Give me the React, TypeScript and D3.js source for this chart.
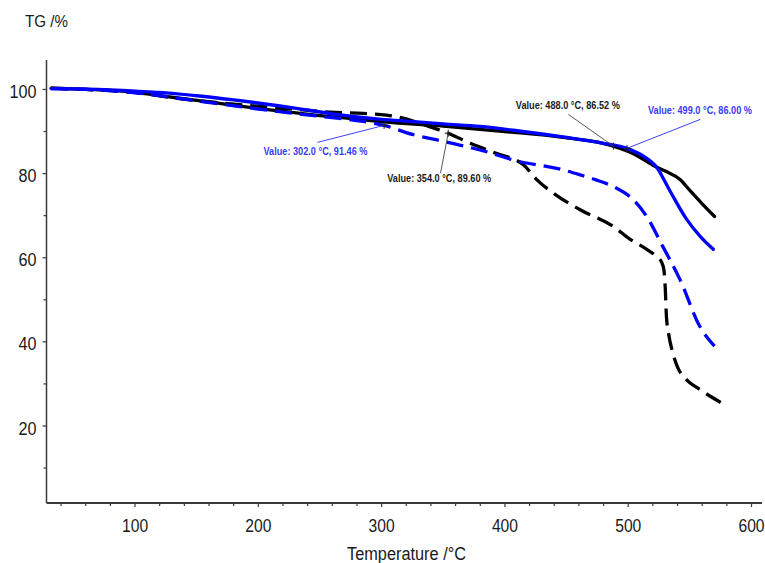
import React from 'react';
import * as d3 from 'd3';

// ---- Data (temperature °C, TG %) ----
const blackSolidT = [32, 60, 80, 100, 123, 150, 204, 250, 285, 302, 350, 400, 447, 488, 505, 520, 530, 542, 550, 560, 570];
const blackSolidV = [100.3, 100.0, 99.8, 99.3, 98.4, 97.4, 95.3, 93.8, 92.8, 92.3, 91.3, 90.0, 88.6, 86.52, 84.6, 82.0, 80.6, 78.6, 76.0, 72.8, 69.8];

const blueSolidT = [32, 60, 80, 100, 120, 150, 180, 231, 260, 300, 323, 350, 380, 407, 447, 480, 499, 512, 523, 534, 547, 558, 569];
const blueSolidV = [100.2, 100.1, 99.9, 99.6, 99.3, 98.5, 97.5, 95.5, 94.2, 92.9, 92.4, 91.8, 91.2, 90.3, 88.7, 87.2, 86.0, 84.2, 81.5, 75.8, 69.3, 65.2, 62.0];

const blackDashT = [32, 60, 100, 136, 169, 204, 230, 258, 285, 304, 320, 331, 354, 372, 393, 415, 426, 439, 461, 488, 501, 515, 523, 527, 529, 530, 531, 533, 536, 540, 547, 558, 575];
const blackDashV = [100.3, 100.0, 99.3, 97.8, 96.8, 95.9, 95.3, 94.6, 94.3, 93.9, 93.0, 91.9, 89.6, 87.2, 84.8, 82.1, 78.5, 75.4, 71.4, 67.4, 64.5, 62.0, 60.3, 59.0, 57.0, 53.0, 46.0, 41.5, 37.5, 34.0, 31.1, 28.7, 25.6];

const blueDashT = [32, 60, 100, 123, 150, 204, 250, 285, 302, 325, 345, 366, 385, 407, 447, 461, 474, 488, 504, 515, 528, 542, 558, 570];
const blueDashV = [100.2, 100.0, 99.2, 98.4, 97.3, 95.2, 93.6, 92.4, 91.46, 89.3, 88.0, 86.6, 85.2, 83.2, 80.9, 79.7, 78.5, 76.9, 73.8, 69.8, 62.7, 54.8, 43.7, 39.0];

const yMajorTicks = [20, 40, 60, 80, 100];
const yMinorTicks = [10, 30, 50, 70, 90];
const xMajorTicks = [100, 200, 300, 400, 500, 600];
const xMinorTicks = d3.range(40, 600, 20).filter((t) => t % 100 !== 0);

const annotTemps = [302.0, 354.0, 488.0, 499.0];
const annotValues = [91.46, 89.6, 86.52, 86.0];
const annotLabels = [
  'Value: 302.0 °C, 91.46 %',
  'Value: 354.0 °C, 89.60 %',
  'Value: 488.0 °C, 86.52 %',
  'Value: 499.0 °C, 86.00 %',
];

const xTitle = 'Temperature /°C';
const yTitle = 'TG /%';

// ---- Styling / layout ----
const BLUE = '#0000ff';
const BLACK = '#000000';
const FONT = '"Liberation Sans Narrow", "Liberation Sans", Arial, sans-serif';
// label layout offsets relative to the marker (px)
const annotLayout = [
  { tx: -120.6, ty: 29.4, lx: -66.6, ly: 17, color: '#3a3aff', lead: '#2a2aff' },
  { tx: -61, ty: 48.4, lx: -7.7, ly: 40, color: '#1a1a1a', lead: '#444444' },
  { tx: -97.6, ty: -36.7, lx: -45, ly: -31.7, color: '#1a1a1a', lead: '#444444' },
  { tx: 21, ty: -34.3, lx: 73.3, ly: -29, color: '#3a3aff', lead: '#2a2aff' },
];

// text squeezed horizontally to mimic the condensed face of the original
function SqText(props: {
  x: number;
  y: number;
  w: number;
  size: number;
  anchor?: 'start' | 'middle' | 'end';
  fill: string;
  weight?: string | number;
  sx?: number;
  children: string;
}) {
  const sx = props.sx ?? 0.8;
  return (
    <g transform={`translate(${props.x},${props.y}) scale(${sx},1)`}>
      <text
        x={0}
        y={0}
        fontSize={props.size}
        fill={props.fill}
        fontWeight={props.weight ?? 'normal'}
        textAnchor={props.anchor ?? 'start'}
        textLength={props.w / sx}
        lengthAdjust="spacingAndGlyphs"
      >
        {props.children}
      </text>
    </g>
  );
}

export default function App() {
  const x = d3.scaleLinear().domain([28.2, 608.5]).range([46.5, 762]);
  const y = d3.scaleLinear().domain([1.7, 107]).range([503, 60]);

  const line = d3
    .line<[number, number]>()
    .x((d) => x(d[0]))
    .y((d) => y(d[1]))
    .curve(d3.curveMonotoneX);

  const zip = (t: number[], v: number[]) => t.map((tt, i) => [tt, v[i]] as [number, number]);

  const series = [
    { d: zip(blackDashT, blackDashV), color: BLACK, dash: '17 8' },
    { d: zip(blackSolidT, blackSolidV), color: BLACK, dash: null },
    { d: zip(blueDashT, blueDashV), color: BLUE, dash: '17 8' },
    { d: zip(blueSolidT, blueSolidV), color: BLUE, dash: null },
  ];

  const axisColor = '#3a3a3a';
  const x0 = x.range()[0];
  const x1 = x.range()[1];
  const yBottom = y.range()[0];
  const yTop = y.range()[1];

  return (
    <svg
      width={765}
      height={563}
      style={{ position: 'absolute', left: 0, top: 0, background: '#fff' }}
      fontFamily={FONT}
    >
      <rect x={0} y={0} width={765} height={563} fill="#fff" />
      {/* axes */}
      <line x1={x0} x2={x0} y1={yTop} y2={yBottom} stroke={axisColor} strokeWidth={1.5} />
      <line x1={x0} x2={x1} y1={yBottom} y2={yBottom} stroke={axisColor} strokeWidth={1.8} />
      {yMajorTicks.map((t) => (
        <g key={'ym' + t}>
          <line x1={x0 - 4} x2={x0} y1={y(t)} y2={y(t)} stroke={axisColor} strokeWidth={1.2} />
          <SqText x={36.5} y={y(t) + 8.5} w={String(t).length * 9} size={19} anchor="end" fill="#1a1a1a" sx={0.84}>
            {String(t)}
          </SqText>
        </g>
      ))}
      {yMinorTicks.map((t) => (
        <line key={'yn' + t} x1={x0 - 3} x2={x0} y1={y(t)} y2={y(t)} stroke={axisColor} strokeWidth={1.2} />
      ))}
      {xMajorTicks.map((t) => (
        <g key={'xm' + t}>
          <line x1={x(t)} x2={x(t)} y1={yBottom} y2={yBottom + 4} stroke={axisColor} strokeWidth={1.2} />
          <SqText x={x(t)} y={531.5} w={String(t).length * 8.7} size={19} anchor="middle" fill="#1a1a1a" sx={0.82}>
            {String(t)}
          </SqText>
        </g>
      ))}
      {xMinorTicks.map((t) => (
        <line key={'xn' + t} x1={x(t)} x2={x(t)} y1={yBottom} y2={yBottom + 3} stroke={axisColor} strokeWidth={1.2} />
      ))}
      <SqText x={347} y={560} w={119} size={19} fill="#1a1a1a" sx={0.85}>
        {xTitle}
      </SqText>
      <SqText x={25} y={26.5} w={43} size={17} fill="#1a1a1a" sx={0.85}>
        {yTitle}
      </SqText>

      {/* curves */}
      {series.map((s, i) => (
        <path
          key={i}
          d={line(s.d) || ''}
          fill="none"
          stroke={s.color}
          strokeWidth={3.3}
          strokeDasharray={s.dash || undefined}
          strokeLinecap={s.dash ? 'butt' : 'round'}
          strokeLinejoin="round"
        />
      ))}

      {/* annotations */}
      {annotTemps.map((t, i) => {
        const mx = x(t);
        const my = y(annotValues[i]);
        const L = annotLayout[i];
        return (
          <g key={'a' + i}>
            <line x1={mx + L.lx} y1={my + L.ly} x2={mx} y2={my} stroke={L.lead} strokeWidth={0.9} />
            <line x1={mx - 3.5} x2={mx + 3.5} y1={my} y2={my} stroke="#222" strokeWidth={1} />
            <line x1={mx} x2={mx} y1={my - 3.5} y2={my + 3.5} stroke="#222" strokeWidth={1} />
            <SqText x={mx + L.tx} y={my + L.ty} w={104} size={11.5} fill={L.color} weight="bold" sx={0.72}>
              {annotLabels[i]}
            </SqText>
          </g>
        );
      })}
    </svg>
  );
}
